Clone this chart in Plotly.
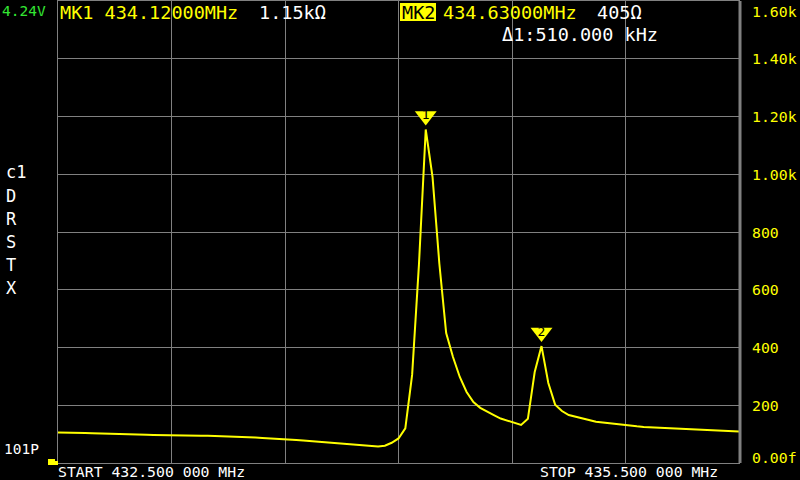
import plotly.graph_objects as go

# ---------------- data ----------------
start_mhz = 432.5
stop_mhz = 435.5
n_points = 101
freqs_mhz = [start_mhz + i * (stop_mhz - start_mhz) / (n_points - 1) for i in range(n_points)]

resistance_ohm = [
    106, 106, 105.5, 105, 104, 103, 102, 101, 100, 99.5,
    99, 98.5, 98, 97.5, 97, 97, 96.5, 96, 96, 95.5,
    95, 94.5, 94, 93.5, 93, 92, 91, 90, 89, 88,
    87, 86, 85, 83.5, 82, 80, 78, 76, 74, 72,
    70, 68, 66, 64, 62, 60, 58, 57, 60, 70,
    85, 120, 305, 686, 1155, 990, 690, 450, 367, 298,
    246, 211, 191, 177, 166, 154, 146, 139, 132, 153,
    315, 405, 277, 202, 180, 166, 160, 153, 148, 143,
    140, 137, 135, 133, 129, 127, 125, 124, 122, 120,
    119, 118, 117, 116, 115, 114, 113, 112, 111, 110,
    109,
]

marker_freqs_mhz = [434.12, 434.63]
marker_values_ohm = [1155, 405]
marker_names = ["1", "2"]

y_tick_values = [0, 200, 400, 600, 800, 1000, 1200, 1400, 1600]
y_tick_labels = ["0.00f", "200", "400", "600", "800", "1.00k", "1.20k", "1.40k", "1.60k"]

side_labels = ["c1", "D", "R", "S", "T", "X"]

battery_text = "4.24V"
mk1_text = "MK1 434.12000MHz"
mk1_value_text = "1.15kΩ"
mk2_tag = "MK2"
mk2_text = "434.63000MHz"
mk2_value_text = "405Ω"
delta_text = "Δ1:510.000 kHz"
points_text = "101P"
start_text = "START 432.500 000 MHz"
stop_text = "STOP 435.500 000 MHz"

# ---------------- style ----------------
MONO = "DejaVu Sans Mono"
YELLOW = "#ffff00"
WHITE = "#ffffff"
GREEN = "#33e633"
GRID = "#808080"

W, H = 800, 480
L, R, T, B = 58, 61, 1, 17
PW, PH = W - L - R, H - T - B
Y_MAX = 1600


def px(x):
    return (x - L) / PW


def py(y):
    return (H - B - y) / PH


fig = go.Figure()

fig.add_trace(go.Scatter(
    x=freqs_mhz, y=resistance_ohm, mode="lines",
    line=dict(color=YELLOW, width=2), hoverinfo="skip",
))

# marker triangles (tip a few pixels above the data point)
tri_size = 19
lift_px = tri_size / 2 + 4
lift = lift_px * Y_MAX / PH
fig.add_trace(go.Scatter(
    x=marker_freqs_mhz, y=[v + lift for v in marker_values_ohm],
    mode="markers+text", text=marker_names, textposition="middle center",
    textfont=dict(family=MONO, size=13, color="#000000"),
    marker=dict(symbol="triangle-down", size=tri_size, color=YELLOW, line=dict(width=0)),
    hoverinfo="skip", cliponaxis=False,
))

annotations = []


def add_text(x, y, text, color, size, xanchor="left"):
    annotations.append(dict(
        x=px(x), y=py(y), xref="paper", yref="paper", text=text, showarrow=False,
        xanchor=xanchor, yanchor="middle", font=dict(family=MONO, size=size, color=color),
        borderpad=0,
    ))


TOP = 18.5
add_text(1, 11, battery_text, GREEN, 14.5)
add_text(59, 12, mk1_text, YELLOW, TOP)
add_text(258, 12, mk1_value_text, WHITE, TOP)
add_text(401, 12, mk2_tag, "#000000", TOP)
add_text(442, 12, mk2_text, YELLOW, TOP)
add_text(596, 12, mk2_value_text, WHITE, TOP)
add_text(501, 35, delta_text, WHITE, TOP)
add_text(3, 449, points_text, WHITE, 14.5)
add_text(57, 471, start_text, WHITE, 14.8)
add_text(539, 471, stop_text, WHITE, 14.8)

side_y = [172, 196, 219, 242, 265, 288]
for lab, yy in zip(side_labels, side_y):
    add_text(5, yy, lab, WHITE, 17)

# right axis labels
for v, lab in zip(y_tick_values, y_tick_labels):
    shift = 0
    if v == Y_MAX:
        shift = -10
    elif v == 0:
        shift = 6
    annotations.append(dict(
        x=px(751), y=v, xref="paper", yref="y", text=lab, showarrow=False,
        xanchor="left", yanchor="middle", yshift=shift, borderpad=0,
        font=dict(family=MONO, size=14.8, color=YELLOW),
    ))

shapes = [
    # MK2 highlight box
    dict(type="rect", xref="paper", yref="paper", x0=px(400), x1=px(436), y0=py(21), y1=py(3),
         fillcolor=YELLOW, line=dict(width=0), layer="below"),
    # thicker right border
    dict(type="line", xref="paper", yref="paper", x0=px(740), x1=px(740), y0=0, y1=1,
         line=dict(color=GRID, width=3)),
    # reference-level indicator
    dict(type="path", xref="paper", yref="paper",
         path=f"M {px(48)},{py(465)} L {px(58)},{py(465)} L {px(58)},{py(461)} L {px(55)},{py(461)} "
              f"L {px(55)},{py(459)} L {px(48)},{py(459)} Z",
         fillcolor=YELLOW, line=dict(width=0)),
]

fig.update_layout(
    width=W, height=H,
    margin=dict(l=L, r=R, t=T, b=B),
    paper_bgcolor="#000000", plot_bgcolor="#000000",
    showlegend=False,
    hovermode=False,
    annotations=annotations,
    shapes=shapes,
    xaxis=dict(range=[start_mhz, stop_mhz], tick0=start_mhz, dtick=0.5, showgrid=True,
               gridcolor=GRID, gridwidth=1, showticklabels=False, zeroline=False,
               showline=True, linecolor=GRID, linewidth=1, mirror=True, ticks=""),
    yaxis=dict(range=[0, Y_MAX], tick0=0, dtick=200, showgrid=True,
               gridcolor=GRID, gridwidth=1, showticklabels=False, zeroline=False,
               showline=True, linecolor=GRID, linewidth=1, mirror=True, ticks=""),
)

fig.write_html(
    "out.html",
    config={"displayModeBar": False, "staticPlot": True},
    post_script="document.body.style.margin='0px';document.body.style.background='#000';",
)
